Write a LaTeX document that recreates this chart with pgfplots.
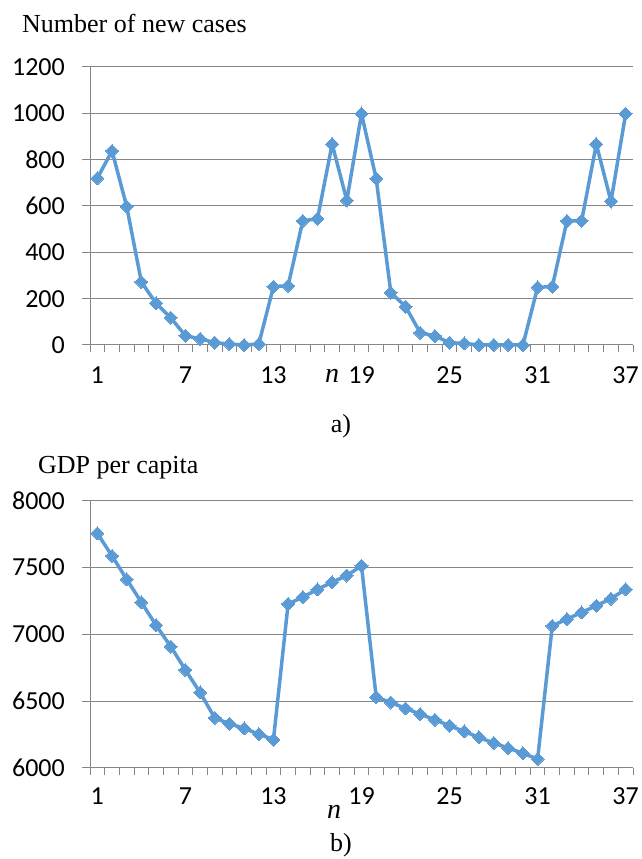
\documentclass[border=0pt]{standalone}
\usepackage{fontspec}
\setmainfont{Liberation Serif}
\newfontfamily\carlito{Carlito}
\usepackage{pgfplots}
\pgfplotsset{compat=1.18}

\definecolor{serie}{RGB}{91,155,213}
\definecolor{gridgray}{RGB}{134,134,134}

\pgfplotstableread{
n cases
1 720
2 838
3 598
4 272
5 180
6 118
7 40
8 27
9 10
10 4
11 0
12 4
13 252
14 256
15 536
16 545
17 867
18 624
19 998
20 718
21 226
22 166
23 53
24 39
25 10
26 7
27 0
28 0
29 0
30 0
31 249
32 252
33 536
34 536
35 867
36 620
37 998
}\casestable

\pgfplotstableread{
n gdp
1 7756
2 7587
3 7412
4 7240
5 7068
6 6909
7 6734
8 6565
9 6375
10 6331
11 6296
12 6254
13 6212
14 7228
15 7278
16 7337
17 7390
18 7440
19 7512
20 6530
21 6490
22 6446
23 6403
24 6361
25 6316
26 6274
27 6229
28 6187
29 6149
30 6110
31 6067
32 7064
33 7114
34 7164
35 7214
36 7268
37 7337
}\gdptable

\pgfplotsset{
  panel/.style={
    scale only axis,
    width=543pt,
    anchor=south west,
    xmin=0.5, xmax=37.5,
    axis x line*=bottom,
    axis y line*=left,
    axis line style={-, draw=gridgray, line width=1pt},
    xtick={1,7,...,37},
    minor xtick={0.5,1.5,...,37.5},
    major x tick style={draw=none},
    minor x tick style={draw=gridgray, line width=1pt},
    major y tick style={draw=gridgray, line width=1pt},
    tick align=outside,
    major tick length=8pt,
    minor tick length=7pt,
    ymajorgrids,
    grid style={draw=gridgray, line width=1pt},
    /pgf/number format/assume math mode=true,
    /pgf/number format/1000 sep={},
    scaled y ticks=false,
    tick label style={font=\carlito\fontsize{26}{26}\selectfont, text=black},
    yticklabel style={anchor=east, inner sep=0pt, xshift=-17pt},
    clip=false,
  },
  serie/.style={
    color=serie, line width=3.5pt,
    mark=square*, mark size=4.6pt,
    mark options={rotate=45, solid, fill=serie, draw=serie, line width=0pt},
  },
}

\begin{document}
\begin{tikzpicture}
\useasboundingbox (0pt,0pt) rectangle (641pt,859pt);

% a) new cases
\begin{axis}[panel, at={(90pt,514pt)}, height=278pt,
  ymin=0, ymax=1200, ytick={0,200,...,1200},
  xticklabel style={anchor=base, inner sep=0pt, yshift=-31pt}]
  \addplot[serie] table[x=n, y=cases] {\casestable};
\end{axis}
\node[anchor=base west, font=\fontsize{26}{26}\selectfont, inner sep=0pt] at (22pt,826.5pt) {Number of new cases};
\node[anchor=base west, font=\itshape\fontsize{28}{28}\selectfont, inner sep=0pt] at (325pt,476pt) {n};
\node[anchor=base, font=\fontsize{26}{26}\selectfont, inner sep=0pt] at (341pt,426pt) {a)};

% b) GDP per capita
\begin{axis}[panel, at={(90pt,91pt)}, height=267.3pt,
  ymin=6000, ymax=8000, ytick={6000,6500,...,8000},
  xticklabel style={anchor=base, inner sep=0pt, yshift=-28pt}]
  \addplot[serie] table[x=n, y=gdp] {\gdptable};
\end{axis}
\node[anchor=base west, font=\fontsize{26}{26}\selectfont, inner sep=0pt] at (38pt,385pt) {GDP per capita};
\node[anchor=base west, font=\itshape\fontsize{28}{28}\selectfont, inner sep=0pt] at (327pt,40pt) {n};
\node[anchor=base, font=\fontsize{26}{26}\selectfont, inner sep=0pt] at (341pt,7pt) {b)};
\end{tikzpicture}
\end{document}
